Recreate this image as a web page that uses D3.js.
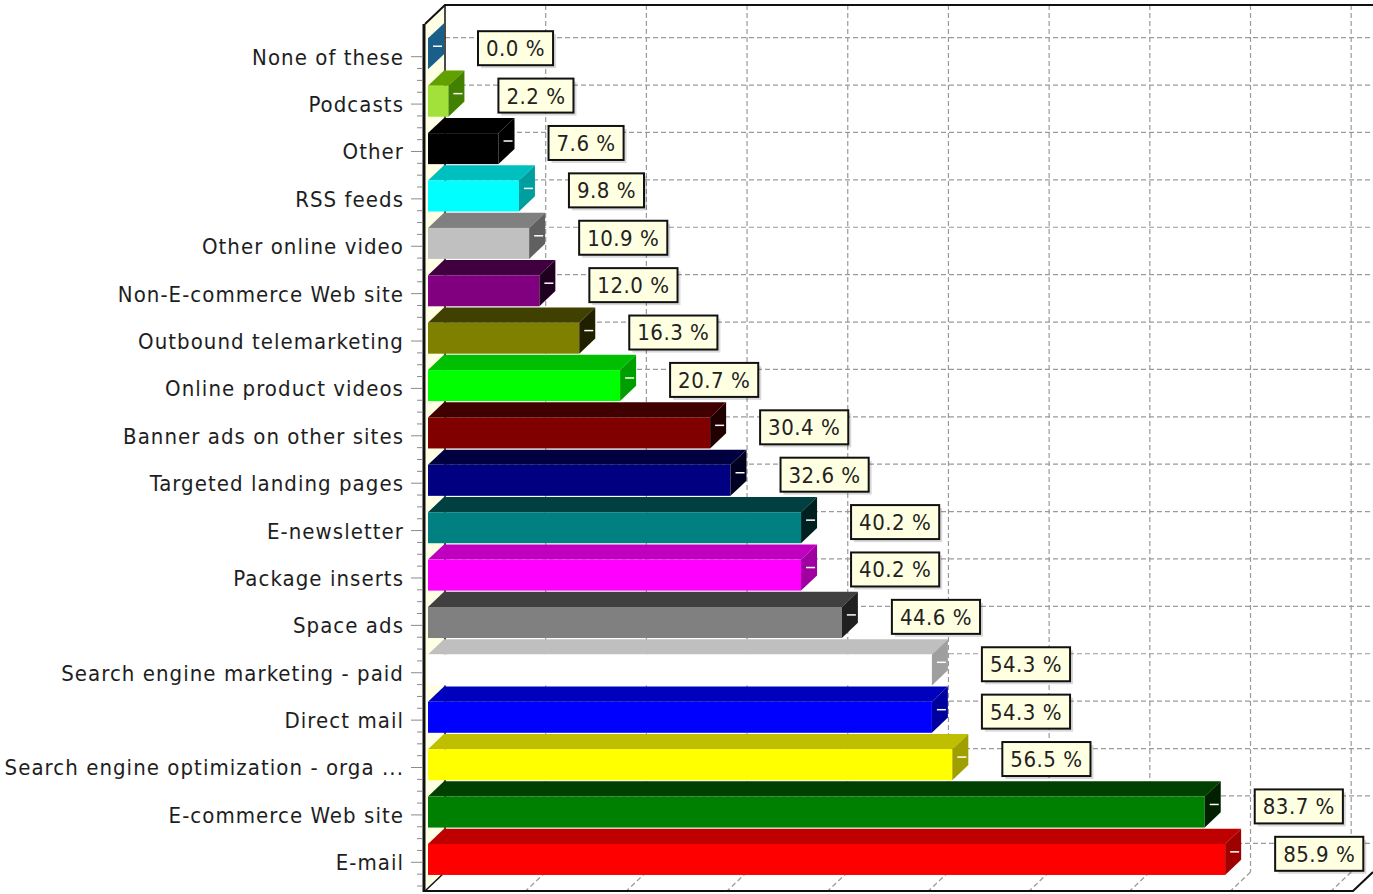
<!DOCTYPE html>
<html>
<head>
<meta charset="utf-8">
<script src="https://cdn.jsdelivr.net/npm/d3@7"></script>
<style>
  body { margin: 0; background: #fff; }
  svg { display: block; }
  .cat { font-family: "DejaVu Sans Condensed", "DejaVu Sans", sans-serif; font-stretch: condensed; font-size: 22px; letter-spacing: 1.05px; fill: #1e1e1e; }
  .val { font-family: "DejaVu Sans Condensed", "DejaVu Sans", sans-serif; font-stretch: condensed; font-size: 22px; letter-spacing: 0.5px; fill: #222; }
</style>
</head>
<body>
<svg id="viz" width="1373" height="894"></svg>
<script>
(function () {
  "use strict";

  // categories, top to bottom
  const categories = [
    "None of these", "Podcasts", "Other", "RSS feeds", "Other online video",
    "Non-E-commerce Web site", "Outbound telemarketing", "Online product videos",
    "Banner ads on other sites", "Targeted landing pages", "E-newsletter",
    "Package inserts", "Space ads", "Search engine marketing - paid", "Direct mail",
    "Search engine optimization - orga ...", "E-commerce Web site", "E-mail"
  ];

  const values = [
    0.0, 2.2, 7.6, 9.8, 10.9, 12.0, 16.3, 20.7, 30.4, 32.6,
    40.2, 40.2, 44.6, 54.3, 54.3, 56.5, 83.7, 85.9
  ];

  const colors = [
    "#7abfea", "#a2e03a", "#000000", "#00ffff", "#c0c0c0", "#800080",
    "#808000", "#00ff00", "#800000", "#000080", "#008080", "#ff00ff",
    "#808080", "#ffffff", "#0000ff", "#ffff00", "#008000", "#ff0000"
  ];

  // back wall grid positions (percent)
  const gridValues = [0, 10.85, 21.7, 32.55, 43.4, 54.25, 65.1, 75.95, 86.8, 97.65];

  /*
  |--------------------------------------------------------------------------
  | Layout settings
  |--------------------------------------------------------------------------
  */

  let origin = { x: 425, top: 24, bottom: 891 };
  let depth = { dx: 20, dy: -19 };
  let bar = { zFront: 0.15, zBack: 0.95, height: 31 };

  let x = d3.scaleLinear().domain([0, 100]).range([origin.x, origin.x + 928]);
  let y = d3.scaleBand().domain(categories).range([33, 886]);

  // project a point at value v, front y, depth z (0 = front, 1 = back wall)
  let proj = (v, yy, z) => [x(v) + z * depth.dx, yy + z * depth.dy];
  let pts = arr => arr.map(p => p.join(",")).join(" ");

  let shade = (c, k) => {
    let r = d3.rgb(c);
    return d3.rgb(Math.max(0, r.r - k), Math.max(0, r.g - k), Math.max(0, r.b - k)).toString();
  };

  let svg = d3.select("#viz");
  let g = svg.append("g");

  /*
  |--------------------------------------------------------------------------
  | Walls
  |--------------------------------------------------------------------------
  */

  // left wall
  g.append("polygon")
    .attr("points", pts([proj(0, origin.top, 0), proj(0, origin.top, 1), proj(0, origin.bottom, 1), proj(0, origin.bottom, 0)]))
    .attr("fill", "#ffffe6");

  // back wall
  g.append("rect")
    .attr("x", proj(0, 0, 1)[0])
    .attr("y", proj(0, origin.top, 1)[1])
    .attr("width", 1373)
    .attr("height", origin.bottom - origin.top)
    .attr("fill", "#fff");

  // vertical grid on back wall + floor diagonals
  let grid = g.append("g").attr("stroke", "#9a9a9a").attr("stroke-width", 1.2).attr("stroke-dasharray", "5,3");
  gridValues.slice(1).forEach(v => {
    let a = proj(v, origin.top, 1), b = proj(v, origin.bottom, 1), c = proj(v, origin.bottom, 0);
    grid.append("line").attr("x1", a[0]).attr("y1", a[1]).attr("x2", b[0]).attr("y2", b[1]);
    grid.append("line").attr("x1", b[0]).attr("y1", b[1]).attr("x2", c[0]).attr("y2", c[1]);
  });
  // horizontal grid at category centers
  categories.forEach(cat => {
    let yc = y(cat) + y.bandwidth() / 2;
    let a = proj(0, yc, 1), b = proj(100, yc, 1);
    grid.append("line").attr("x1", a[0]).attr("y1", a[1]).attr("x2", b[0]).attr("y2", b[1]);
  });

  // frame lines
  let frame = g.append("g").attr("stroke", "#111").attr("fill", "none");
  let tl0 = proj(0, origin.top, 0), tl1 = proj(0, origin.top, 1);
  let bl0 = proj(0, origin.bottom, 0), bl1 = proj(0, origin.bottom, 1);
  let br0 = proj(100, origin.bottom, 0), br1 = proj(100, origin.bottom, 1);
  frame.append("polyline").attr("stroke-width", 2).attr("points", pts([tl0, tl1, [1373, tl1[1]]]));
  frame.append("line").attr("stroke-width", 1.5).attr("x1", tl1[0]).attr("y1", tl1[1]).attr("x2", bl1[0]).attr("y2", bl1[1]);
  frame.append("line").attr("stroke-width", 1.5).attr("x1", bl0[0]).attr("y1", bl0[1]).attr("x2", bl1[0]).attr("y2", bl1[1]);
  frame.append("polyline").attr("stroke-width", 2).attr("points", pts([bl0, br0, br1]));
  frame.append("line").attr("stroke-width", 3).attr("x1", tl0[0] - 1).attr("y1", tl0[1]).attr("x2", bl0[0] - 1).attr("y2", bl0[1] + 1);

  // left axis ticks
  let ticks = g.append("g").attr("stroke", "#8a8a8a").attr("stroke-width", 1);
  d3.range(0, categories.length * 4 + 1).forEach(i => {
    let yy = 33 + i * y.step() / 4 + y.step() / 2;
    if (yy > origin.bottom) return;
    let major = i % 4 === 0;
    ticks.append("line")
      .attr("x1", origin.x - (major ? 14 : 8)).attr("x2", origin.x - 2)
      .attr("y1", yy).attr("y2", yy);
  });

  /*
  |--------------------------------------------------------------------------
  | Bars
  |--------------------------------------------------------------------------
  */

  let bars = g.append("g").selectAll("g.bar")
    .data(categories.map((c, i) => ({ cat: c, v: values[i], color: colors[i] })))
    .enter().append("g").attr("class", "bar");

  bars.each(function (d) {
    let sel = d3.select(this);
    let yc = y(d.cat) + y.bandwidth() / 2;
    let t = yc - bar.height / 2, b = yc + bar.height / 2;
    let zf = bar.zFront, zb = bar.zBack;

    // top face
    sel.append("polygon")
      .attr("points", pts([proj(0, t, zf), proj(d.v, t, zf), proj(d.v, t, zb), proj(0, t, zb)]))
      .attr("fill", shade(d.color, 64));
    // front face
    let f0 = proj(0, t, zf), f1 = proj(d.v, b, zf);
    sel.append("rect")
      .attr("x", f0[0]).attr("y", f0[1])
      .attr("width", Math.max(0, f1[0] - f0[0])).attr("height", f1[1] - f0[1])
      .attr("fill", d.color);
    // side face
    sel.append("polygon")
      .attr("points", pts([proj(d.v, t, zf), proj(d.v, t, zb), proj(d.v, b, zb), proj(d.v, b, zf)]))
      .attr("fill", shade(d.color, 96));
    // white tick on bar end
    let m = proj(d.v, yc, (zf + zb) / 2);
    sel.append("line")
      .attr("x1", m[0] - 3).attr("x2", m[0] + 6)
      .attr("y1", m[1]).attr("y2", m[1])
      .attr("stroke", "#fff").attr("stroke-width", 1.5);
  });

  /*
  |--------------------------------------------------------------------------
  | Category labels
  |--------------------------------------------------------------------------
  */

  g.append("g").selectAll("text")
    .data(categories)
    .enter().append("text")
    .attr("class", "cat")
    .attr("x", 404)
    .attr("y", d => y(d) + y.bandwidth() / 2)
    .attr("dy", "0.36em")
    .attr("text-anchor", "end")
    .text(d => d);

  /*
  |--------------------------------------------------------------------------
  | Value labels
  |--------------------------------------------------------------------------
  */

  let labels = g.append("g").selectAll("g.lbl")
    .data(categories.map((c, i) => ({ cat: c, v: values[i] })))
    .enter().append("g").attr("class", "lbl");

  labels.each(function (d) {
    let sel = d3.select(this);
    let yc = y(d.cat) + y.bandwidth() / 2 - 8.5;
    let left = proj(d.v, 0, bar.zFront)[0] + 50;
    let txt = sel.append("text").attr("class", "val")
      .attr("y", yc).attr("dy", "0.36em")
      .text(d.v.toFixed(1) + " %");
    let w = txt.node().getComputedTextLength() + 16;
    let h = 34;
    sel.insert("rect", "text")
      .attr("x", left + 3).attr("y", yc - h / 2 + 3)
      .attr("width", w).attr("height", h)
      .attr("fill", "#000").attr("opacity", 0.15);
    sel.insert("rect", "text")
      .attr("x", left).attr("y", yc - h / 2)
      .attr("width", w).attr("height", h)
      .attr("fill", "#ffffe1").attr("stroke", "#111").attr("stroke-width", 2);
    txt.attr("x", left + w / 2).attr("text-anchor", "middle");
  });

})();
</script>
</body>
</html>
